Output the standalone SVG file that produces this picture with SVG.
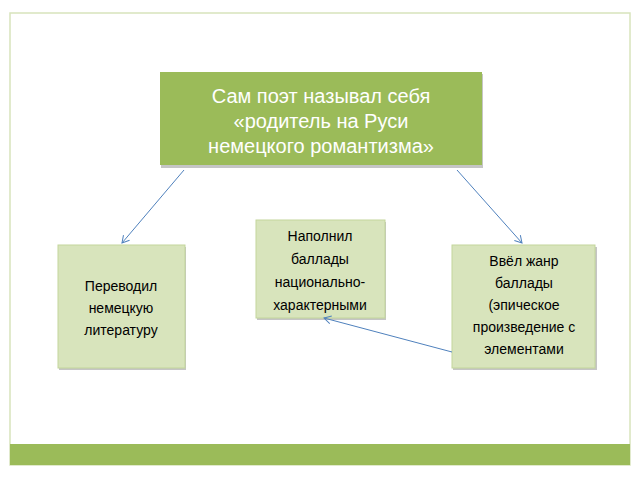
<svg xmlns="http://www.w3.org/2000/svg" width="640" height="480" viewBox="0 0 640 480">
<style>
.box{fill:#d8e4bc;stroke:#c3d69b;stroke-width:1}
.sh{fill:#8c8c8c;opacity:0.5}
.t{font-family:"Liberation Sans",Arial,sans-serif;font-size:14px;fill:#000;text-anchor:middle}
.w{font-family:"Liberation Sans",Arial,sans-serif;font-size:20px;fill:#fff;text-anchor:middle}
.c{stroke:#4f81bd;stroke-width:1;fill:none;marker-end:url(#a)}
</style>
<defs><marker id="a" markerWidth="10" markerHeight="10" refX="8" refY="5" orient="auto" markerUnits="userSpaceOnUse"><path d="M1,1 L8,5 L1,9" fill="none" stroke="#4f81bd" stroke-width="1"/></marker></defs>
<rect x="0" y="0" width="640" height="480" fill="#fff"/>
<rect x="10" y="13" width="620" height="452" fill="#fff" stroke="#d8e4bc" stroke-width="1.5"/>
<rect x="10" y="444" width="620" height="21" fill="#9bbb59"/>
<g id="main"><rect x="161" y="74" width="322" height="94" class="sh"/><rect x="160" y="72" width="322" height="93" fill="#9bbb59"/>
<text class="w" x="321" y="103">Сам поэт называл себя</text><text class="w" x="321" y="128">«родитель на Руси</text><text class="w" x="321" y="153">немецкого романтизма»</text></g>
<g id="left"><rect x="59" y="247" width="127" height="123" class="sh"/><rect x="58" y="245" width="127" height="123" class="box"/>
<text class="t" x="121" y="291">Переводил</text><text class="t" x="121" y="313">немецкую</text><text class="t" x="121" y="335">литературу</text></g>
<g id="mid"><rect x="257" y="222" width="129" height="98" class="sh"/><rect x="256" y="220" width="129" height="98" class="box"/>
<text class="t" x="320" y="241">Наполнил</text><text class="t" x="320" y="264">баллады</text><text class="t" x="320" y="287">национально-</text><text class="t" x="320" y="310">характерными</text><text class="t" x="320" y="310" dy="0"></text></g>
<g id="right"><rect x="453" y="247" width="144" height="123" class="sh"/><rect x="452" y="245" width="143" height="123" class="box"/>
<text class="t" x="524" y="266">Ввёл жанр</text><text class="t" x="524" y="288">баллады</text><text class="t" x="524" y="310">(эпическое</text><text class="t" x="524" y="332">произведение с</text><text class="t" x="524" y="354">элементами</text><text class="t" x="524" y="376" dy="-22" visibility="hidden"></text></g>
<g id="connectors">
<line class="c" x1="184" y1="170" x2="122" y2="243"/>
<line class="c" x1="457" y1="170" x2="522" y2="243"/>
<line class="c" x1="452" y1="352" x2="324" y2="318"/>
</g>
</svg>
